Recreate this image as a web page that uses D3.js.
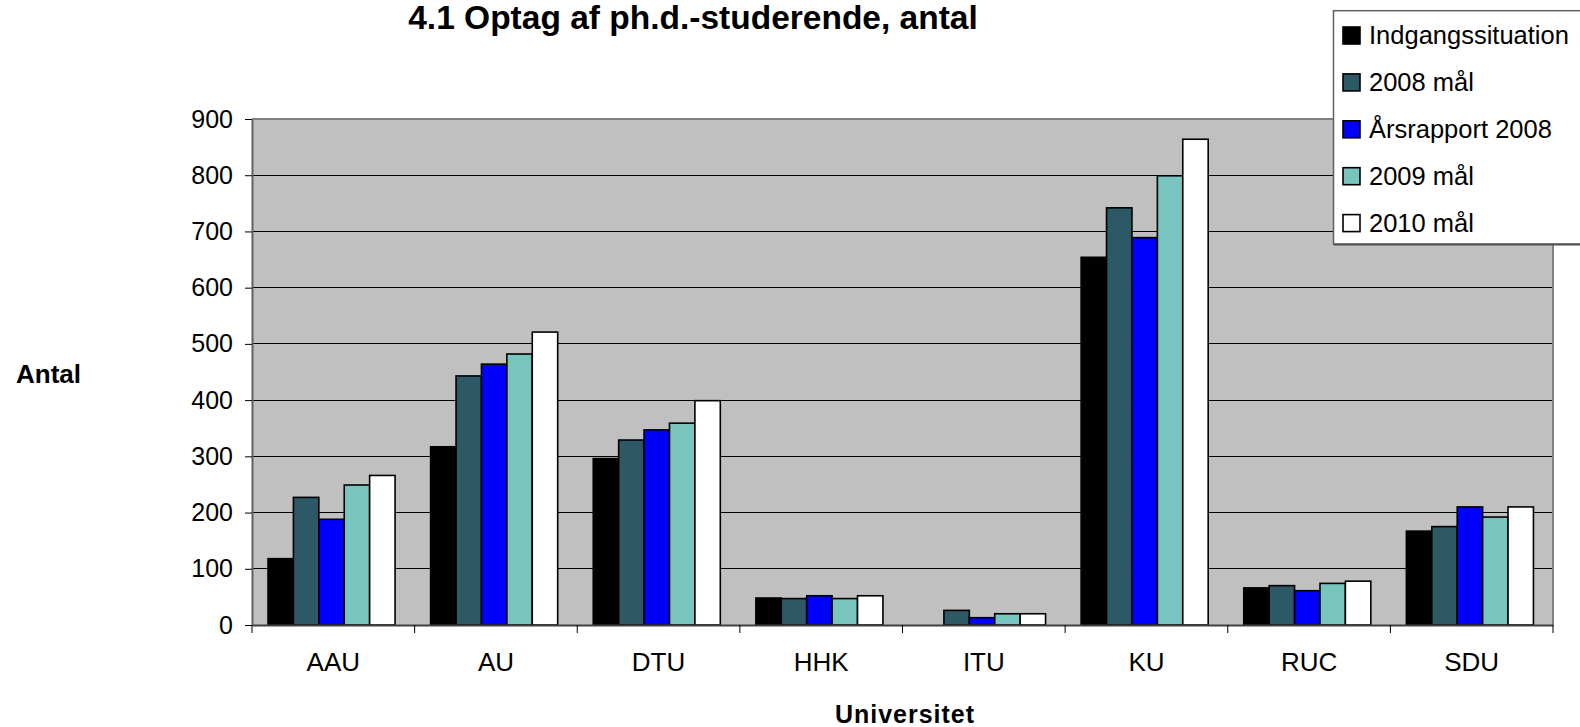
<!DOCTYPE html>
<html>
<head>
<meta charset="utf-8">
<script src="https://cdn.jsdelivr.net/npm/d3@7"></script>
<style>
  html, body { margin: 0; padding: 0; background: #fff; }
  svg { display: block; font-family: "Liberation Sans", Arial, sans-serif; }
</style>
</head>
<body>
<svg id="chart" width="1580" height="727"></svg>
<script>
// ---- data ----
const categories = ["AAU", "AU", "DTU", "HHK", "ITU", "KU", "RUC", "SDU"];
const seriesNames = ["Indgangssituation", "2008 mål", "Årsrapport 2008", "2009 mål", "2010 mål"];
const indgangssituation = [118, 317, 296, 48, 0, 654, 66, 167];
const maal2008          = [227, 443, 329, 47, 26, 742, 70, 175];
const aarsrapport2008   = [188, 464, 347, 52, 13, 689, 61, 210];
const maal2009          = [249, 482, 359, 47, 20, 799, 74, 192];
const maal2010          = [266, 521, 399, 52, 20, 864, 78, 210];
const seriesValues = [indgangssituation, maal2008, aarsrapport2008, maal2009, maal2010];
const yTicks = [0, 100, 200, 300, 400, 500, 600, 700, 800, 900];
const titleText = "4.1 Optag af ph.d.-studerende, antal";
const yTitle = "Antal";
const xTitle = "Universitet";

// ---- styles ----
const colors = ["#000000", "#2D5866", "#0000FF", "#78C4BE", "#FFFFFF"];
const plot = { left: 252, right: 1553, top: 119, bottom: 625 };

const svg = d3.select("#chart");

const x0 = d3.scaleBand().domain(categories).range([plot.left, plot.right]).padding(0);
const x1 = d3.scaleBand().domain(seriesNames).range([0, x0.bandwidth()])
  .paddingInner(0).paddingOuter(0.7).align(0.45);
const y = d3.scaleLinear().domain([0, 900]).range([plot.bottom, plot.top]);

// plot background
svg.append("rect")
  .attr("x", plot.left).attr("y", plot.top)
  .attr("width", plot.right - plot.left).attr("height", plot.bottom - plot.top)
  .attr("fill", "#C0C0C0");

// gridlines
svg.append("g").selectAll("line")
  .data(yTicks.filter(t => t > 0 && t < 900))
  .join("line")
  .attr("x1", plot.left).attr("x2", plot.right)
  .attr("y1", d => y(d)).attr("y2", d => y(d))
  .attr("stroke", "#000").attr("stroke-width", 1)
  .attr("shape-rendering", "crispEdges");

// plot border (top / right)
svg.append("path")
  .attr("d", `M${plot.left},${y(900)}H${plot.right}V${plot.bottom}`)
  .attr("fill", "none").attr("stroke", "#808080").attr("stroke-width", 2);

// bars
const rows = [];
categories.forEach((c, i) => {
  seriesNames.forEach((s, j) => {
    rows.push({ cat: c, series: s, idx: j, value: seriesValues[j][i] });
  });
});
svg.append("g").selectAll("rect")
  .data(rows.filter(d => d.value > 0))
  .join("rect")
  .attr("x", d => x0(d.cat) + x1(d.series))
  .attr("y", d => y(d.value))
  .attr("width", x1.bandwidth())
  .attr("height", d => y(0) - y(d.value))
  .attr("fill", d => colors[d.idx])
  .attr("stroke", "#000").attr("stroke-width", 1.6);

// y axis
const yAxis = svg.append("g")
  .attr("transform", `translate(${plot.left},0)`)
  .call(d3.axisLeft(y).tickValues(yTicks).tickSize(7).tickPadding(12).tickSizeOuter(0));
yAxis.select(".domain").attr("stroke", "#606060").attr("stroke-width", 2);
yAxis.selectAll(".tick line").attr("stroke", "#000");
yAxis.selectAll("text").attr("font-size", 25).attr("fill", "#000")
  .attr("font-family", "Liberation Sans, Arial, sans-serif");

// x axis (labels at centres, ticks at category boundaries)
const xAxis = svg.append("g")
  .attr("transform", `translate(0,${plot.bottom})`)
  .call(d3.axisBottom(x0).tickSize(0).tickPadding(28).tickSizeOuter(0));
xAxis.select(".domain").attr("stroke", "#404040").attr("stroke-width", 2);
xAxis.selectAll("text").attr("font-size", 26).attr("fill", "#000")
  .attr("font-family", "Liberation Sans, Arial, sans-serif");
const boundaries = categories.map(c => x0(c)).concat([x0.range()[1]]);
xAxis.selectAll(".bound").data(boundaries).join("line")
  .attr("class", "bound")
  .attr("x1", d => d).attr("x2", d => d)
  .attr("y1", 0).attr("y2", 8)
  .attr("stroke", "#000").attr("stroke-width", 1);

// title
svg.append("text")
  .attr("x", 693).attr("y", 29)
  .attr("text-anchor", "middle")
  .attr("font-size", 33.5).attr("font-weight", "bold")
  .text(titleText);

// axis titles
svg.append("text")
  .attr("x", 16).attr("y", 383)
  .attr("font-size", 26).attr("font-weight", "bold")
  .text(yTitle);
svg.append("text")
  .attr("x", 905).attr("y", 723)
  .attr("text-anchor", "middle")
  .attr("font-size", 25).attr("font-weight", "bold")
  .attr("letter-spacing", 1)
  .text(xTitle);

// legend
const lg = svg.append("g");
lg.append("rect")
  .attr("x", 1333.5).attr("y", 10.7).attr("width", 300).attr("height", 233.5)
  .attr("fill", "#fff").attr("stroke", "#606060").attr("stroke-width", 1.5);
lg.append("line")
  .attr("x1", 1334).attr("x2", 1634).attr("y1", 244.5).attr("y2", 244.5)
  .attr("stroke", "#505050").attr("stroke-width", 2);
const items = lg.selectAll("g.item").data(seriesNames).join("g")
  .attr("class", "item")
  .attr("transform", (d, i) => `translate(1343,${35.5 + i * 46.9})`);
items.append("rect")
  .attr("x", 0).attr("y", -8.5).attr("width", 17).attr("height", 17)
  .attr("fill", (d, i) => colors[i]).attr("stroke", "#000").attr("stroke-width", 1.6);
items.append("text")
  .attr("x", 26).attr("y", 8.5)
  .attr("font-size", 25.5)
  .text(d => d);
</script>
</body>
</html>
